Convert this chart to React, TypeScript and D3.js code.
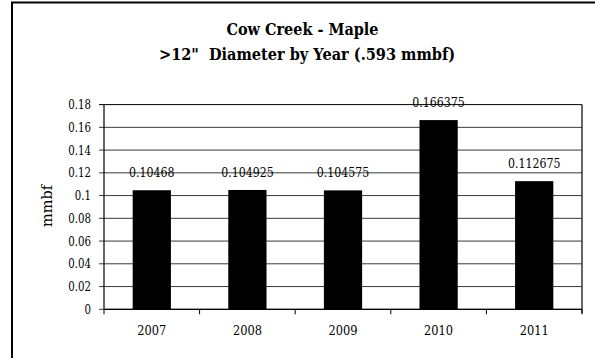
import React from "react";
import * as d3 from "d3";

const categories = ["2007", "2008", "2009", "2010", "2011"];
const values = [0.10468, 0.104925, 0.104575, 0.166375, 0.112675];
const valueLabels = ["0.10468", "0.104925", "0.104575", "0.166375", "0.112675"];
const yTicks = [0, 0.02, 0.04, 0.06, 0.08, 0.1, 0.12, 0.14, 0.16, 0.18];
const yTickLabels = ["0", "0.02", "0.04", "0.06", "0.08", "0.1", "0.12", "0.14", "0.16", "0.18"];
const titleLines = ["Cow Creek - Maple", ">12\"  Diameter by Year (.593 mmbf)"];
const yAxisTitle = "mmbf";

const W = 595;
const H = 358;
const plot = { left: 104, right: 582, top: 104.6, bottom: 309.3 };
const FONT = "DejaVu Serif, serif";
const ts: React.CSSProperties = { fontFamily: FONT };

// approximate Times-like widths (em) for digits / dot, used to fit text width
const numWidth = (s: string, size: number) =>
  s.split("").reduce((a, ch) => a + (ch === "." ? 0.25 : 0.5), 0) * size;

export default function App() {
  const x = d3.scaleBand<string>().domain(categories).range([plot.left, plot.right]).paddingInner(0.6).paddingOuter(0.3);
  const xb = d3.scaleBand<string>().domain(categories).range([plot.left, plot.right]);
  const y = d3.scaleLinear().domain([0, 0.18]).range([plot.bottom, plot.top]);

  const titleLayout = [
    { cx: 302.5, by: 34.5, len: 152 },
    { cx: 307, by: 60, len: 296 },
  ];

  return (
    <svg width={W} height={H} style={{ position: "absolute", left: 0, top: 0, background: "#fff", fontFamily: FONT }}>
      <rect x={12} y={2.5} width={W} height={H + 20} fill="#fff" stroke="#000" strokeWidth={2} />
      {titleLines.map((t, i) => (
        <text
          key={i}
          x={titleLayout[i].cx}
          y={titleLayout[i].by}
          textAnchor="middle"
          fontSize={16.5}
          fontWeight="bold"
          textLength={titleLayout[i].len}
          lengthAdjust="spacingAndGlyphs"
          style={{ ...ts, whiteSpace: "pre" }}
        >
          {t}
        </text>
      ))}
      {yTicks.map((t, i) => (
        <line key={i} x1={plot.left - 5} x2={plot.right} y1={y(t)} y2={y(t)} stroke={i === yTicks.length - 1 ? "#000" : "#3a3a3a"} strokeWidth={1} />
      ))}
      <line x1={plot.right} x2={plot.right} y1={plot.top} y2={plot.bottom + 4} stroke="#333" strokeWidth={1.5} />
      {categories.map((c, i) => (
        <rect key={c} x={x(c)} y={y(values[i])} width={x.bandwidth()} height={plot.bottom - y(values[i])} fill="#000" />
      ))}
      <line x1={plot.left} x2={plot.left} y1={plot.top} y2={plot.bottom} stroke="#000" strokeWidth={1.2} />
      <line x1={plot.left} x2={plot.right} y1={plot.bottom} y2={plot.bottom} stroke="#000" strokeWidth={1.2} />
      {categories.map((c) => (
        <line key={c} x1={xb(c)} x2={xb(c)} y1={plot.bottom} y2={plot.bottom + 5} stroke="#000" strokeWidth={1} />
      ))}
      <line x1={plot.right} x2={plot.right} y1={plot.bottom} y2={plot.bottom + 5} stroke="#000" strokeWidth={1} />
      {yTicks.map((t, i) => {
        const len = numWidth(yTickLabels[i], 13);
        return (
          <text key={i} x={91 - len} y={y(t) + 4.5} fontSize={12} textLength={len} lengthAdjust="spacingAndGlyphs" style={ts}>
            {yTickLabels[i]}
          </text>
        );
      })}
      {categories.map((c) => (
        <text
          key={c}
          x={(xb(c) as number) + xb.bandwidth() / 2}
          y={335}
          textAnchor="middle"
          fontSize={12.5}
          textLength={numWidth(c, 14.5)}
          lengthAdjust="spacingAndGlyphs"
          style={ts}
        >
          {c}
        </text>
      ))}
      {categories.map((c, i) => (
        <text
          key={c}
          x={(x(c) as number) + x.bandwidth() / 2}
          y={y(values[i]) - 13}
          textAnchor="middle"
          fontSize={12}
          textLength={numWidth(valueLabels[i], 14)}
          lengthAdjust="spacingAndGlyphs"
          style={ts}
        >
          {valueLabels[i]}
        </text>
      ))}
      <text transform="translate(51.5,206) rotate(-90)" textAnchor="middle" fontSize={15} textLength={42} lengthAdjust="spacingAndGlyphs" style={ts}>
        {yAxisTitle}
      </text>
    </svg>
  );
}
